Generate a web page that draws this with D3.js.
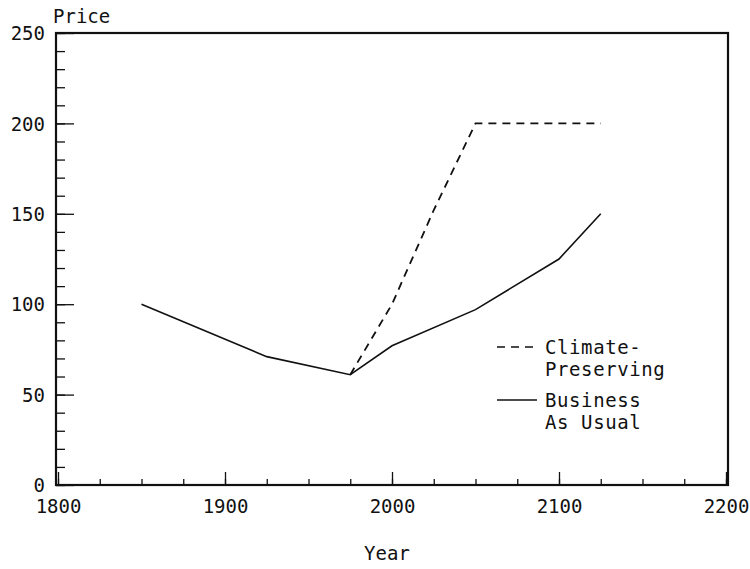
<!DOCTYPE html>
<html>
<head>
<meta charset="utf-8">
<script src="https://cdn.jsdelivr.net/npm/d3@7"></script>
<style>
  body { margin: 0; background: #fff; }
  text { font-family: "DejaVu Sans Mono", monospace; fill: #111; }
</style>
</head>
<body>
<div id="chart"></div>
<script>
// Chart data
const bauYears = [1850, 1925, 1975, 2000, 2050, 2100, 2125];
const bauPrice = [100, 71, 61, 77, 97, 125, 150];
const climateYears = [1975, 2000, 2025, 2050, 2125];
const climatePrice = [61, 100, 152, 200, 200];
const xTickLabels = [1800, 1900, 2000, 2100, 2200];
const yTickLabels = [0, 50, 100, 150, 200, 250];
const legendLabels = [["Climate-", "Preserving"], ["Business", "As Usual"]];

const width = 750, height = 569;
const plotLeft = 56, plotRight = 728, plotTop = 33, plotBottom = 485;

const svg = d3.select("#chart").append("svg")
  .attr("width", width)
  .attr("height", height);

const x = d3.scaleLinear().domain([1800, 2200]).range([plotLeft + 2, plotRight - 2]);
const y = d3.scaleLinear().domain([0, 250]).range([plotBottom, plotTop]);

// minor ticks (inward)
svg.append("g")
  .attr("transform", `translate(0,${plotBottom})`)
  .call(d3.axisBottom(x).tickValues(d3.range(1800, 2201, 25)).tickSize(-6).tickFormat(""))
  .call(g => g.select(".domain").remove());
svg.append("g")
  .attr("transform", `translate(${plotLeft},0)`)
  .call(d3.axisLeft(y).tickValues(d3.range(0, 251, 10)).tickSize(-9).tickFormat(""))
  .call(g => g.select(".domain").remove());

// major ticks with labels
svg.append("g")
  .attr("transform", `translate(0,${plotBottom})`)
  .call(d3.axisBottom(x).tickValues(xTickLabels).tickSize(-13).tickPadding(20).tickFormat(d3.format("d")))
  .call(g => g.select(".domain").remove())
  .call(g => g.selectAll("text").attr("font-size", 19).attr("font-family", "DejaVu Sans Mono").attr("dy", "0.4em"));
svg.append("g")
  .attr("transform", `translate(${plotLeft},0)`)
  .call(d3.axisLeft(y).tickValues(yTickLabels).tickSize(-18).tickPadding(11).tickFormat(d3.format("d")))
  .call(g => g.select(".domain").remove())
  .call(g => g.selectAll("text").attr("font-size", 19).attr("font-family", "DejaVu Sans Mono").attr("dy", "0.35em"));

svg.selectAll(".tick line").attr("stroke", "#111").attr("stroke-width", 1.3);

// frame
svg.append("rect")
  .attr("x", plotLeft).attr("y", plotTop)
  .attr("width", plotRight - plotLeft).attr("height", plotBottom - plotTop)
  .attr("fill", "none").attr("stroke", "#111").attr("stroke-width", 2.2);

const line = d3.line().x(d => x(d[0])).y(d => y(d[1]));

svg.append("path")
  .datum(bauYears.map((yr, i) => [yr, bauPrice[i]]))
  .attr("d", line)
  .attr("fill", "none").attr("stroke", "#111").attr("stroke-width", 1.6);

svg.append("path")
  .datum(climateYears.map((yr, i) => [yr, climatePrice[i]]))
  .attr("d", line)
  .attr("fill", "none").attr("stroke", "#111").attr("stroke-width", 1.8)
  .attr("stroke-dasharray", "8,6");

// axis titles
svg.append("text").attr("x", 53).attr("y", 23).attr("font-size", 19).text("Price");
svg.append("text").attr("x", 387).attr("y", 560).attr("font-size", 19)
  .attr("text-anchor", "middle").text("Year");

// legend
const legend = svg.append("g");
const dashes = ["8,6", null];
legendLabels.forEach((lab, i) => {
  const ly = 347 + i * 53;
  legend.append("line")
    .attr("x1", 497).attr("x2", 537).attr("y1", ly).attr("y2", ly)
    .attr("stroke", "#111").attr("stroke-width", 1.6)
    .attr("stroke-dasharray", dashes[i]);
  lab.forEach((t, j) => {
    legend.append("text")
      .attr("x", 545).attr("y", ly + 7 + j * 22)
      .attr("font-size", 19).attr("letter-spacing", 0.6)
      .text(t);
  });
});
</script>
</body>
</html>
